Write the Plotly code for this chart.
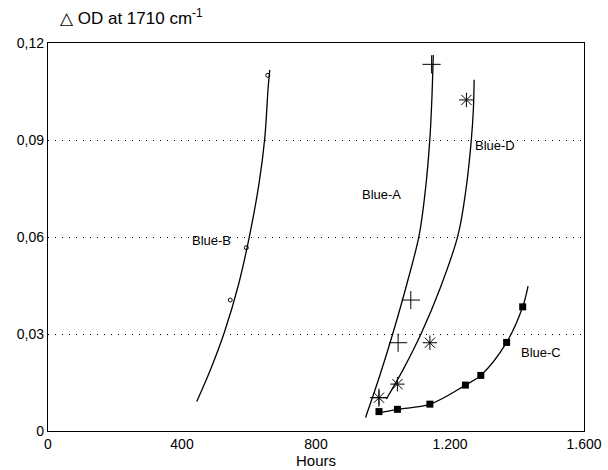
import plotly.graph_objects as go

# ---- data ----
# measured points
b_x = [544, 592, 656]
b_y = [0.0405, 0.0567, 0.110]
a_x = [988, 1045, 1083, 1145]
a_y = [0.0103, 0.0273, 0.0405, 0.1134]
d_x = [988, 1043, 1140, 1249]
d_y = [0.0103, 0.0145, 0.0273, 0.1024]
c_x = [988, 1043, 1140, 1246, 1292, 1369, 1417]
c_y = [0.0060, 0.0067, 0.0083, 0.0142, 0.0172, 0.0274, 0.0384]

# fitted curves
b_fx = [444, 487, 527, 568, 602, 630, 647, 657, 662]
b_fy = [0.0091, 0.0195, 0.0307, 0.0450, 0.0606, 0.0766, 0.0905, 0.1060, 0.1117]
a_fx = [948, 990, 1030, 1070, 1108, 1127, 1140, 1146, 1150]
a_fy = [0.0042, 0.0170, 0.0304, 0.0450, 0.0606, 0.0750, 0.0905, 0.1030, 0.1163]
d_fx = [1010, 1060, 1115, 1170, 1224, 1248, 1264, 1270, 1272]
d_fy = [0.0099, 0.0190, 0.0304, 0.0440, 0.0606, 0.0750, 0.0905, 0.1000, 0.1086]
c_fx = [980, 1043, 1140, 1246, 1292, 1369, 1417, 1433]
c_fy = [0.0055, 0.0067, 0.0083, 0.0142, 0.0172, 0.0274, 0.0384, 0.0448]

labels = ["Blue-B", "Blue-A", "Blue-D", "Blue-C"]
label_x = [489, 995, 1335, 1472]
label_y = [0.059, 0.073, 0.0884, 0.0243]

x_ticks = [0, 400, 800, 1200, 1600]
x_ticktext = ["0", "400", "800", "1.200", "1.600"]
y_ticks = [0, 0.03, 0.06, 0.09, 0.12]
y_ticktext = ["0", "0,03", "0,06", "0,09", "0,12"]

FONT = "Liberation Sans, Arial, sans-serif"
fig = go.Figure()

line = dict(color="black", width=1.3)
for fx, fy in [(b_fx, b_fy), (a_fx, a_fy), (d_fx, d_fy), (c_fx, c_fy)]:
    fig.add_trace(go.Scatter(x=fx, y=fy, mode="lines", line=line,
                             line_shape="spline", showlegend=False, hoverinfo="skip"))

fig.add_trace(go.Scatter(x=b_x, y=b_y, mode="markers", showlegend=False,
                         marker=dict(symbol="circle-open", size=4, color="black",
                                     line=dict(width=1, color="black"))))
fig.add_trace(go.Scatter(x=a_x, y=a_y, mode="markers", showlegend=False,
                         marker=dict(symbol="cross-thin-open", size=13, color="black",
                                     line=dict(width=1, color="black"))))
fig.add_trace(go.Scatter(x=d_x, y=d_y, mode="markers", showlegend=False,
                         marker=dict(symbol="asterisk-open", size=12, color="black",
                                     line=dict(width=1, color="black"))))
fig.add_trace(go.Scatter(x=c_x, y=c_y, mode="markers", showlegend=False,
                         marker=dict(symbol="square", size=7, color="black")))

for t, lx, ly in zip(labels, label_x, label_y):
    fig.add_annotation(x=lx, y=ly, text=t, showarrow=False,
                       font=dict(family=FONT, size=13, color="black"))

fig.add_annotation(xref="paper", yref="paper", x=0.018, y=1.068, xanchor="left",
                   yanchor="middle", showarrow=False,
                   text="△ OD at 1710 cm<sup>-1</sup>",
                   font=dict(family=FONT, size=17, color="black"))

fig.add_annotation(xref="paper", yref="paper", x=0.5, y=-0.1, xanchor="center",
                   yanchor="bottom", showarrow=False, text="Hours", borderpad=0,
                   font=dict(family=FONT, size=15, color="black"))

fig.update_layout(
    width=608, height=470,
    margin=dict(l=48, r=24, t=43, b=39, autoexpand=False),
    paper_bgcolor="white", plot_bgcolor="white",
    font=dict(family=FONT, size=14, color="black"),
    xaxis=dict(range=[0, 1600], tickvals=x_ticks, ticktext=x_ticktext,
               showgrid=False, zeroline=False, showline=True, linecolor="black",
               linewidth=1.3, mirror=True, ticks="", ticklabelstandoff=0,
               automargin=False),
    yaxis=dict(range=[0, 0.12], tickvals=y_ticks, ticktext=y_ticktext,
               showgrid=True, gridcolor="black", gridwidth=1, griddash="1px,6px",
               zeroline=False, showline=True, linecolor="black", linewidth=1.3,
               mirror=True, ticks="", automargin=False),
)

fig.write_html("out.html")
